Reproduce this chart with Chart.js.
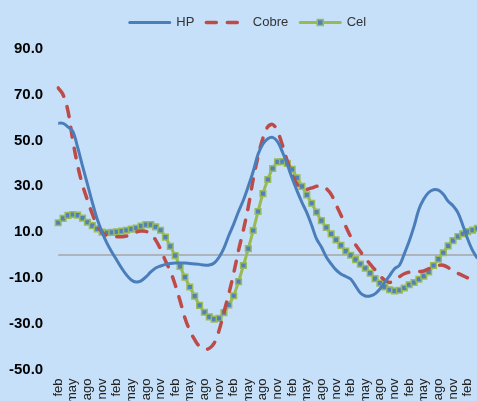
<!DOCTYPE html>
<html>
<head>
<meta charset="utf-8">
<script src="https://cdn.jsdelivr.net/npm/chart.js@4.4.1/dist/chart.umd.min.js"></script>
<style>
  html, body { margin: 0; padding: 0; background: #C6E0F9; overflow: hidden; width: 477px; height: 401px; }
  #wrap { position: absolute; left: 0; top: 0; width: 502px; height: 412px; }
  canvas { display: block; }
</style>
</head>
<body>
<div id="wrap"><canvas id="c" width="502" height="412"></canvas></div>
<script>
// Monthly categories (feb of first year ... abr of last), labels shown every 3 months
const months = [
  'feb','mar','abr','may','jun','jul','ago','sep','oct','nov','dic','ene',
  'feb','mar','abr','may','jun','jul','ago','sep','oct','nov','dic','ene',
  'feb','mar','abr','may','jun','jul','ago','sep','oct','nov','dic','ene',
  'feb','mar','abr','may','jun','jul','ago','sep','oct','nov','dic','ene',
  'feb','mar','abr','may','jun','jul','ago','sep','oct','nov','dic','ene',
  'feb','mar','abr','may','jun','jul','ago','sep','oct','nov','dic','ene',
  'feb','mar','abr','may','jun','jul','ago','sep','oct','nov','dic','ene',
  'feb','mar','abr'
];

const hp = [
  57.6, 57.5, 56, 54, 47, 38.8, 31, 23, 15.7, 10,
  5.2, 1.3, -2.2, -5.7, -8.7, -10.9, -11.8, -11.3, -9.6, -7.4,
  -5.7, -4.8, -4.1, -3.7, -3.5, -3.5, -3.5, -3.7, -3.9, -4.1,
  -4.4, -4.4, -3.5, -1, 3, 8.5, 13.5, 19, 24, 30,
  36.5, 44, 48.5, 50.8, 51.4, 49.5, 45, 39.5, 33.5, 28,
  23, 18.5, 13, 7, 3.5, -0.9, -3.9, -6.5, -8.3, -9.4,
  -10.5, -13.5, -16.6, -17.9, -17.9, -17, -14.8, -12, -9, -6,
  -4.5, 0.5, 6, 12.5, 20, 24.5, 27.3, 28.5, 28.3, 26.5,
  23.5, 21.5, 18.5, 13, 7, 2, -1.5
];

const cobre = [
  73, 70, 63, 50, 39, 30.5, 24, 18, 13, 10,
  8.5, 8, 8, 8, 8.3, 9, 10, 10.5, 10.3, 9.2,
  6.5, 2.5, -2.5, -7, -13, -20, -27.5, -33, -37, -40,
  -41.2, -40.8, -38.5, -33, -25, -17, -8, 2, 11, 21,
  33, 43, 51, 56, 57, 54, 48, 41, 35, 31,
  29, 28.7, 29.3, 30, 30.2, 29, 26.5, 22, 17.5, 12.5,
  8, 4.5, 1.5, -1.5, -4, -6.5, -9, -11, -12, -11,
  -9.5, -8.2, -7.5, -7.3, -7.2, -7, -6, -5, -4.5, -4.5,
  -5.5, -7, -8, -9, -10, -11, -12
];

const cel = [
  14.1, 16, 17.3, 17.7, 17.4, 16.1, 14.3, 12.8, 11.4, 10,
  9.7, 9.9, 10.1, 10.4, 10.8, 11.3, 11.8, 12.6, 13.3, 13.3,
  12.3, 10.8, 7.8, 3.8, -0.3, -5, -9.7, -14, -18, -22,
  -25, -27, -28, -27.7, -25.2, -21.8, -17.8, -11.6, -4.6, 2.8,
  10.7, 19, 26.8, 33, 37.8, 40.7, 40.8, 40, 37.4, 33.7,
  30, 26.3, 22.6, 18.7, 15, 12, 9.2, 6.6, 4.2, 1.7,
  -0.1, -2, -4, -5.8, -7.9, -10.3, -12.3, -14, -15.2, -15.7,
  -15.4, -14.4, -13, -12, -10.6, -9.2, -7.4, -4.6, -1.8, 1,
  4, 6.3, 8.1, 9.3, 10.2, 10.9, 11.6
];

const yTicks = { min: -50, max: 90, step: 20 };

const zeroLine = {
  id: 'zeroLine',
  beforeDatasetsDraw(chart) {
    const { ctx, chartArea, scales } = chart;
    const y = scales.y.getPixelForValue(0);
    ctx.save();
    ctx.strokeStyle = '#A6A6A6';
    ctx.lineWidth = 1.5;
    ctx.beginPath();
    ctx.moveTo(chartArea.left, y);
    ctx.lineTo(chartArea.right, y);
    ctx.stroke();
    ctx.restore();
  }
};

const legendSpace = {
  id: 'legendSpace',
  beforeInit(chart) {
    const lg = chart.legend;
    if (!lg) return;
    const origFit = lg.fit;
    lg.fit = function () {
      origFit.call(this);
      this.height += 10;
    };
  }
};

const legendMarker = {
  id: 'legendMarker',
  afterDraw(chart) {
    const lg = chart.legend;
    if (!lg || !lg.legendHitBoxes || !lg.legendHitBoxes[2]) return;
    const hb = lg.legendHitBoxes[2];
    const bw = lg.options.labels.pointStyleWidth;
    const cx = hb.left + bw / 2;
    const cy = hb.top + hb.height / 2;
    const ctx = chart.ctx;
    ctx.save();
    ctx.fillStyle = '#4F81BD';
    ctx.strokeStyle = '#9BBB59';
    ctx.lineWidth = 1.5;
    ctx.fillRect(cx - 3, cy - 3, 6, 6);
    ctx.strokeRect(cx - 3, cy - 3, 6, 6);
    ctx.restore();
  }
};

new Chart(document.getElementById('c'), {
  type: 'line',
  data: {
    labels: months,
    datasets: [
      {
        label: 'HP', data: hp,
        borderColor: '#4A7EBB', backgroundColor: '#4A7EBB',
        borderWidth: 3, pointRadius: 0, tension: 0.35, fill: false
      },
      {
        label: 'Cobre', data: cobre,
        borderColor: '#BE4B48', backgroundColor: '#BE4B48',
        borderWidth: 3.5, borderDash: [10, 11], borderCapStyle: 'round',
        pointRadius: 0, tension: 0.35, fill: false
      },
      {
        label: 'Cel', data: cel,
        borderColor: '#98B954', backgroundColor: '#4F81BD',
        borderWidth: 3, tension: 0.35, fill: false,
        pointStyle: 'rect', pointRadius: 4,
        pointBackgroundColor: '#4F81BD', pointBorderColor: '#9BBB59', pointBorderWidth: 1.5
      }
    ]
  },
  options: {
    responsive: false,
    animation: false,
    layout: { padding: { left: -6, top: 4, right: 0, bottom: 0 } },
    plugins: {
      legend: {
        display: true,
        position: 'top',
        labels: {
          usePointStyle: true,
          pointStyleWidth: 40,
          padding: 12,
          color: '#333333',
          font: { family: '"Liberation Sans", Arial, sans-serif', size: 13 },
          generateLabels(chart) {
            const items = Chart.defaults.plugins.legend.labels.generateLabels(chart);
            items.forEach(it => {
              const ds = chart.data.datasets[it.datasetIndex];
              it.pointStyle = 'line';
              it.lineCap = 'round';
              it.lineWidth = ds.borderWidth;
              it.strokeStyle = ds.borderColor;
              it.lineDash = ds.borderDash || [];
            });
            return items;
          }
        }
      },
      tooltip: { enabled: false }
    },
    scales: {
      x: {
        type: 'category',
        offset: false,
        grid: { display: false, drawTicks: false },
        border: { display: false },
        ticks: {
          autoSkip: false,
          minRotation: 90,
          maxRotation: 90,
          padding: 9,
          color: '#222222',
          font: { family: '"Liberation Sans", Arial, sans-serif', size: 13 },
          callback(value, index) {
            return index % 3 === 0 ? this.getLabelForValue(value) : '';
          }
        }
      },
      y: {
        min: yTicks.min,
        max: yTicks.max,
        grid: { display: false, drawTicks: false },
        border: { display: false },
        ticks: {
          stepSize: yTicks.step,
          padding: 15,
          color: '#000000',
          font: { family: '"Liberation Sans", Arial, sans-serif', size: 15, weight: 'bold' },
          callback(v) { return Number(v).toFixed(1); }
        }
      }
    }
  },
  plugins: [zeroLine, legendSpace, legendMarker]
});
</script>
</body>
</html>
